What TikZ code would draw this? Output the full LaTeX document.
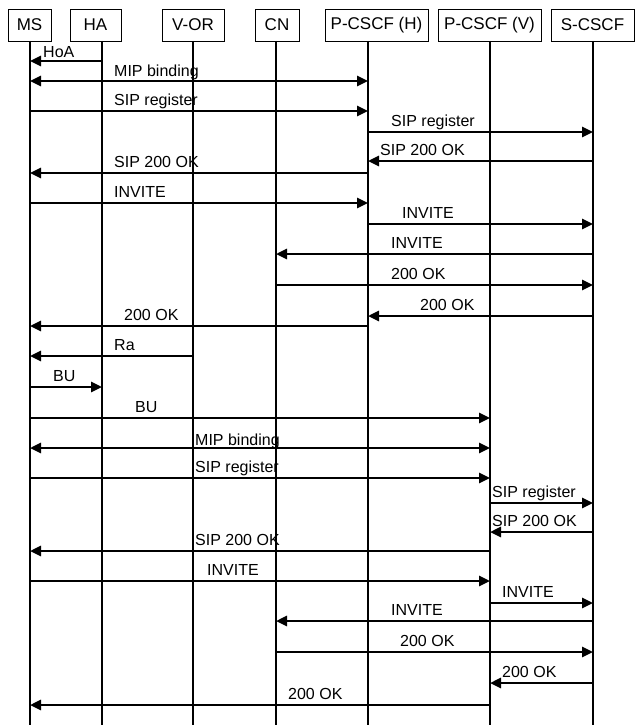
\documentclass[tikz,border=0pt]{standalone}
\usepackage{fontspec}
\setmainfont{Liberation Sans}
\usetikzlibrary{arrows.meta,positioning}

\begin{document}
\begin{tikzpicture}[x=1pt,y=-1pt,font=\fontsize{16}{18}\selectfont,
  hdr/.style={draw,line width=0.9pt,minimum height=32pt,inner sep=1pt,font=\fontsize{17}{19}\selectfont},
  life/.style={line width=1.6pt},
  msg/.style={line width=2.6pt,-{Triangle[length=11pt,width=10pt]}},
  bimsg/.style={line width=2.6pt,{Triangle[length=11pt,width=10pt]}-{Triangle[length=11pt,width=10pt]}},
  lbl/.style={anchor=base west,inner sep=0pt}]
\useasboundingbox (0,0) rectangle (641,725);
% header boxes
\node[hdr,minimum width=43pt]  (hms)  at (29.5,25) {MS};
\node[hdr,minimum width=51pt]  (hha)  at (95.5,25) {HA};
\node[hdr,minimum width=62pt]  (hvor) at (193,25) {V-OR};
\node[hdr,minimum width=44pt]  (hcn)  at (277,25) {CN};
\node[hdr,minimum width=103pt] (hph)  at (376.5,25) {P-CSCF (H)};
\node[hdr,minimum width=103pt] (hpv)  at (489.5,25) {P-CSCF (V)};
\node[hdr,minimum width=83pt]  (hsc)  at (592.5,25) {S-CSCF};
% lifelines
\coordinate (ms)  at (30,41);  \coordinate (ms-end)  at (30,725);
\coordinate (ha)  at (102,41); \coordinate (ha-end)  at (102,725);
\coordinate (vor) at (193,41); \coordinate (vor-end) at (193,725);
\coordinate (cn)  at (276,41); \coordinate (cn-end)  at (276,725);
\coordinate (ph)  at (368,41); \coordinate (ph-end)  at (368,725);
\coordinate (pv)  at (490,41); \coordinate (pv-end)  at (490,725);
\coordinate (sc)  at (593,41); \coordinate (sc-end)  at (593,725);
\draw[life] (ms) -- (ms-end);
\draw[life] (ha) -- (ha-end);
\draw[life] (vor) -- (vor-end);
\draw[life] (cn) -- (cn-end);
\draw[life] (ph) -- (ph-end);
\draw[life] (pv) -- (pv-end);
\draw[life] (sc) -- (sc-end);
% home network: registration and call
\draw[msg] (ha |- 0,61) -- (ms |- 0,61);
\node[lbl] (l1) at (43,57) {HoA};
\draw[bimsg] (ms |- 0,81) -- (ph |- 0,81);
\node[lbl] (l2) at (114,77) {MIP binding};
\draw[msg] (ms |- 0,111) -- (ph |- 0,111);
\node[lbl] (l3) at (114,105) {SIP register};
\draw[msg] (ph |- 0,132) -- (sc |- 0,132);
\node[lbl] (l4) at (391,126) {SIP register};
\draw[msg] (sc |- 0,161) -- (ph |- 0,161);
\node[lbl] (l5) at (380,155) {SIP 200 OK};
\draw[msg] (ph |- 0,173) -- (ms |- 0,173);
\node[lbl] (l6) at (114,167) {SIP 200 OK};
\draw[msg] (ms |- 0,203) -- (ph |- 0,203);
\node[lbl] (l7) at (114,197) {INVITE};
\draw[msg] (ph |- 0,224) -- (sc |- 0,224);
\node[lbl] (l8) at (402,218) {INVITE};
\draw[msg] (sc |- 0,254) -- (cn |- 0,254);
\node[lbl] (l9) at (391,248) {INVITE};
\draw[msg] (cn |- 0,285) -- (sc |- 0,285);
\node[lbl] (l10) at (391,279) {200 OK};
\draw[msg] (sc |- 0,316) -- (ph |- 0,316);
\node[lbl] (l11) at (420,310) {200 OK};
\draw[msg] (ph |- 0,326) -- (ms |- 0,326);
\node[lbl] (l12) at (124,320) {200 OK};
% handover to visited network
\draw[msg] (vor |- 0,356) -- (ms |- 0,356);
\node[lbl] (l13) at (114,350) {Ra};
\draw[msg] (ms |- 0,387) -- (ha |- 0,387);
\node[lbl] (l14) at (53,381) {BU};
\draw[msg] (ms |- 0,418) -- (pv |- 0,418);
\node[lbl] (l15) at (135,412) {BU};
\draw[bimsg] (ms |- 0,448) -- (pv |- 0,448);
\node[lbl] (l16) at (195,445) {MIP binding};
\draw[msg] (ms |- 0,478) -- (pv |- 0,478);
\node[lbl] (l17) at (195,472) {SIP register};
\draw[msg] (pv |- 0,503) -- (sc |- 0,503);
\node[lbl] (l18) at (492,497) {SIP register};
\draw[msg] (sc |- 0,532) -- (pv |- 0,532);
\node[lbl] (l19) at (492,526) {SIP 200 OK};
\draw[msg] (pv |- 0,551) -- (ms |- 0,551);
\node[lbl] (l20) at (195,545) {SIP 200 OK};
\draw[msg] (ms |- 0,581) -- (pv |- 0,581);
\node[lbl] (l21) at (207,575) {INVITE};
\draw[msg] (pv |- 0,603) -- (sc |- 0,603);
\node[lbl] (l22) at (502,597) {INVITE};
\draw[msg] (sc |- 0,621) -- (cn |- 0,621);
\node[lbl] (l23) at (391,615) {INVITE};
\draw[msg] (cn |- 0,652) -- (sc |- 0,652);
\node[lbl] (l24) at (400,646) {200 OK};
\draw[msg] (sc |- 0,683) -- (pv |- 0,683);
\node[lbl] (l25) at (502,677) {200 OK};
\draw[msg] (pv |- 0,705) -- (ms |- 0,705);
\node[lbl] (l26) at (288,699) {200 OK};
\end{tikzpicture}
\end{document}
